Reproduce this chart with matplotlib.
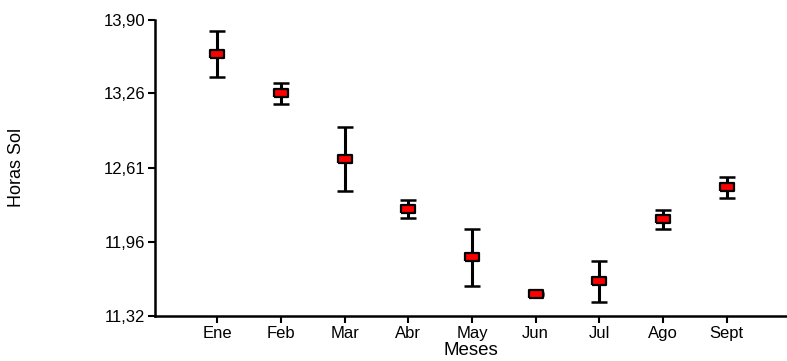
import numpy as np
import matplotlib.pyplot as plt

meses = ["Ene", "Feb", "Mar", "Abr", "May", "Jun", "Jul", "Ago", "Sept"]
horas = [13.60, 13.26, 12.69, 12.25, 11.83, 11.51, 11.62, 12.16, 12.44]
error = [0.20, 0.09, 0.28, 0.08, 0.25, 0.01, 0.18, 0.08, 0.09]
yticks = [11.32, 11.96, 12.61, 13.26, 13.90]

plt.rcParams['font.family'] = ['Liberation Sans', 'DejaVu Sans']

fig = plt.figure(figsize=(7.87, 3.61), dpi=100)
ax = fig.add_axes([0.197, 0.125, 0.803, 0.82])

x = np.arange(1, len(meses) + 1)
rect = [(-1, -0.6), (1, -0.6), (1, 0.6), (-1, 0.6), (-1, -0.6)]
ax.errorbar(x, horas, yerr=error, fmt='none', ecolor='black', elinewidth=2.2,
            capsize=5.6, capthick=1.8, zorder=2)
ax.plot(x, horas, linestyle='none', marker=rect, markersize=10.5,
        markerfacecolor='red', markeredgecolor='black', markeredgewidth=1.6, zorder=3)

ax.set_xlim(0.02, 9.95)
ax.set_ylim(11.32, 13.90)
ax.set_xticks(x)
ax.set_xticklabels(meses, fontsize=12)
ax.set_yticks(yticks)
ax.set_yticklabels([f"{v:.2f}".replace('.', ',') for v in yticks], fontsize=12)

for s in ['top', 'right']:
    ax.spines[s].set_visible(False)
for s in ['left', 'bottom']:
    ax.spines[s].set_linewidth(1.8)
ax.tick_params(direction='out', length=5, width=1.5, pad=2)

ax.set_xlabel("Meses", fontsize=13.5, labelpad=1)
ax.set_ylabel("Horas Sol", fontsize=13)
ax.yaxis.set_label_coords(-0.205, 0.5)

fig.savefig("out.png", dpi=100)
